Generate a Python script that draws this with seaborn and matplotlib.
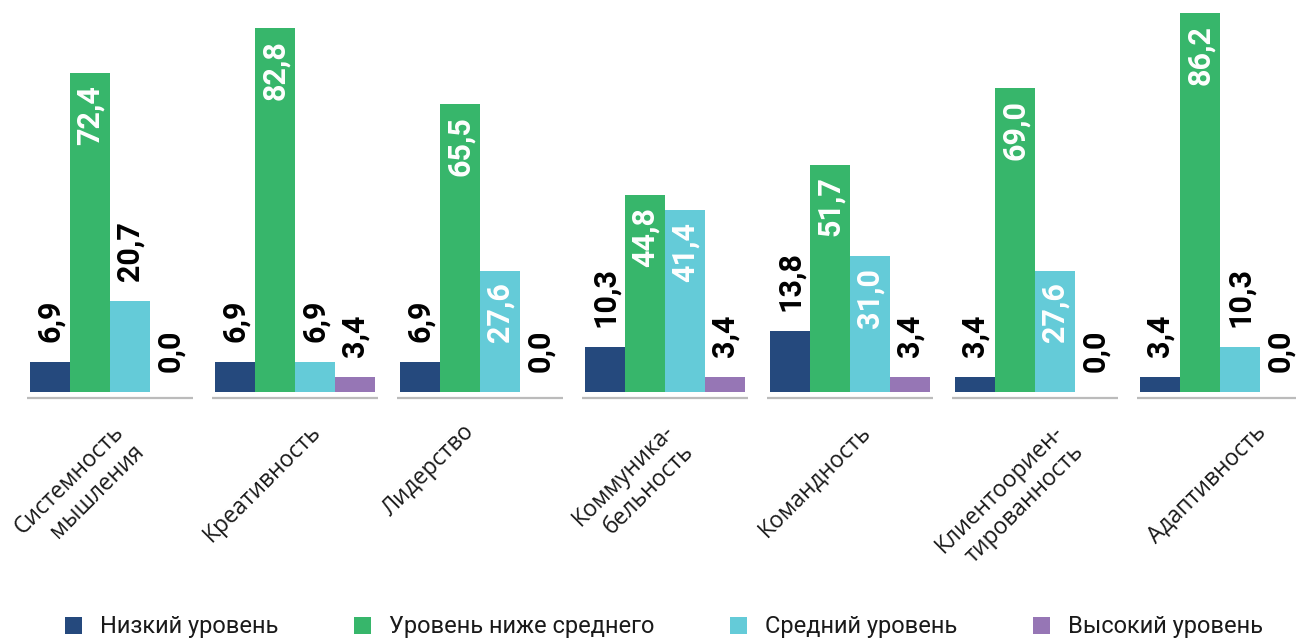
import matplotlib
matplotlib.use("Agg")
import matplotlib.pyplot as plt
import seaborn as sns
import pandas as pd
import numpy as np

categories = ["Системность\nмышления", "Креативность", "Лидерство", "Коммуника-\nбельность",
              "Командность", "Клиентоориен-\nтированность", "Адаптивность"]
levels = ["Низкий уровень", "Уровень ниже среднего", "Средний уровень", "Высокий уровень"]
low = [6.9, 6.9, 6.9, 10.3, 13.8, 3.4, 3.4]
below_mid = [72.4, 82.8, 65.5, 44.8, 51.7, 69.0, 86.2]
mid = [20.7, 6.9, 27.6, 41.4, 31.0, 27.6, 10.3]
high = [0.0, 3.4, 0.0, 3.4, 3.4, 0.0, 0.0]
colors = ["#25497D", "#37B66B", "#64CBD8", "#9676B5"]

# layout tweak: horizontal pixel shift of each category label end
label_shift_px = [8, 20, -12, 3, 15, 23, 40]

rows = []
for series, lev in zip([low, below_mid, mid, high], levels):
    for cat, v in zip(categories, series):
        rows.append({"cat": cat, "level": lev, "value": v})
df = pd.DataFrame(rows)

sns.set_theme(style="white")
plt.rcParams["font.family"] = ["Roboto", "DejaVu Sans"]

W, H = 1296, 639
fig = plt.figure(figsize=(W / 100, H / 100), dpi=100)
base_px = 392
line_px = 398
ax = fig.add_axes([0, (H - line_px) / H, 1, line_px / H])
px_per_unit = 4.40

sns.barplot(data=df, x="cat", y="value", hue="level", order=categories, hue_order=levels,
            palette=colors, saturation=1, width=160 / 185, linewidth=0, ax=ax, errorbar=None)

ax.set_xlim(-110 / 185, (W - 110) / 185)
ax.set_ylim(-(line_px - base_px) / px_per_unit, base_px / px_per_unit)
ax.axis("off")
handles, labels = ax.get_legend_handles_labels()
if ax.get_legend() is not None:
    ax.get_legend().remove()

# grey base segments under each group
y0 = ax.get_ylim()[0]
for i in range(len(categories)):
    ax.plot([i - 0.45, i + 0.45], [y0, y0], color="#BBBBBB", lw=1.6, clip_on=False,
            solid_capstyle="butt")

# value labels
for cont in ax.containers:
    for bar in cont:
        v = bar.get_height()
        x = bar.get_x() + bar.get_width() / 2
        txt = f"{v:.1f}".replace(".", ",")
        if v > 25:
            ax.annotate(txt, (x, v), xytext=(0, -12), textcoords="offset pixels",
                        rotation=90, ha="center", va="top", color="white",
                        fontsize=22, fontweight="bold")
        else:
            ax.annotate(txt, (x, v), xytext=(0, 20), textcoords="offset pixels",
                        rotation=90, ha="center", va="bottom", color="black",
                        fontsize=22, fontweight="bold")

# category labels
for i, (cat, sh) in enumerate(zip(categories, label_shift_px)):
    ax.annotate(cat, (i, 0), xytext=(sh - 6, -(420 - base_px)), textcoords="offset pixels",
                rotation=45, rotation_mode="anchor", ha="right", va="top",
                multialignment="right", fontsize=16.5, color="#1a1a1a",
                family=["Open Sans", "DejaVu Sans"], annotation_clip=False)

fig.legend(handles, labels, loc="center", bbox_to_anchor=(664 / W, 12 / H), ncol=4,
           frameon=False, handlelength=0.72, handleheight=0.72,
           handletextpad=0.76, columnspacing=3.2, borderpad=0, borderaxespad=0,
           labelcolor="#1a1a1a",
           prop={"family": ["Roboto", "DejaVu Sans"], "weight": "normal", "size": 17})

fig.savefig("out.png", dpi=100)
